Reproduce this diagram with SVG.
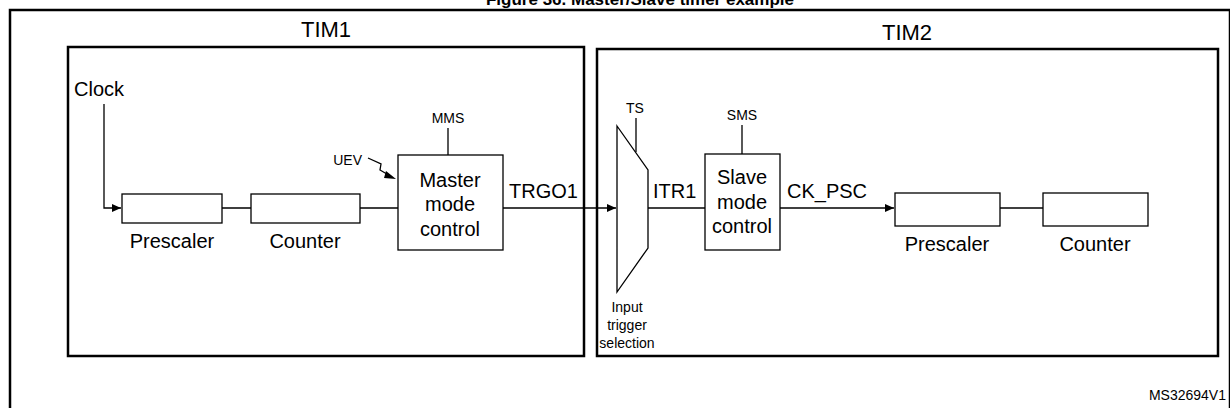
<svg xmlns="http://www.w3.org/2000/svg" width="1230" height="408" viewBox="0 0 1230 408">
<defs>
<style>
.t{font-family:"Liberation Sans",Arial,sans-serif;fill:#000}
.m{font-size:20px}
.s{font-size:14px}
.b{fill:#fff;stroke:#000;stroke-width:1.3}
.f{fill:none;stroke:#000;stroke-width:2.5}
.l{fill:none;stroke:#000;stroke-width:1.3}
</style>
<marker id="a" markerWidth="10" markerHeight="8" refX="9" refY="4" orient="auto" markerUnits="userSpaceOnUse"><path d="M0,0L9,4L0,8z" fill="#000"/></marker>
</defs>
<rect width="1230" height="408" fill="#fff"/>
<text class="t" x="640" y="5" font-size="17" font-weight="bold" text-anchor="middle">Figure 36. Master/Slave timer example</text>
<rect x="10" y="10" width="1220" height="400" class="f" fill="none"/>
<g id="tim1"><rect x="68" y="47" width="516" height="309" class="f"/><text class="t" x="326" y="37" font-size="22" text-anchor="middle">TIM1</text></g>
<g id="tim2"><rect x="597" y="49" width="621" height="307" class="f"/><text class="t" x="907" y="40" font-size="22" text-anchor="middle">TIM2</text></g>
<g id="connectors">
<path class="l" d="M104,104V208H121" marker-end="url(#a)"/>
<path class="l" d="M222,208H251M360,208H398"/>
<path class="l" d="M448,128V155M636,118V152M742,125V154"/>
<path class="l" d="M503,208H616" marker-end="url(#a)"/>
<path class="l" d="M648,208H705"/>
<path class="l" d="M780,208H894" marker-end="url(#a)"/>
<path class="l" d="M1000,208H1043"/>
<path class="l" d="M368,158L381,164L380,170L392,177"/>
<path d="M396,179L386,171L384,178z" fill="#000"/>
</g>
<g id="clock"><text class="t m" x="74" y="96">Clock</text></g>
<g id="prescaler1"><rect class="b" x="122" y="194" width="100" height="29"/><text class="t m" x="172" y="248" text-anchor="middle">Prescaler</text></g>
<g id="counter1"><rect class="b" x="251" y="194" width="109" height="29"/><text class="t m" x="305" y="248" text-anchor="middle">Counter</text></g>
<g id="master"><rect class="b" x="398" y="155" width="105" height="95"/>
<text class="t m" text-anchor="middle"><tspan x="450" y="187">Master</tspan><tspan x="450" y="211">mode</tspan><tspan x="450" y="236">control</tspan></text>
<text class="t s" x="448" y="123" text-anchor="middle">MMS</text>
<text class="t s" x="362" y="165" text-anchor="end">UEV</text></g>
<text class="t m" x="509" y="198">TRGO1</text>
<g id="mux"><path class="b" d="M617,126L648,170V248L617,292Z"/>
<text class="t s" x="635" y="113" text-anchor="middle">TS</text>
<text class="t s" text-anchor="middle"><tspan x="627" y="312">Input</tspan><tspan x="627" y="330">trigger</tspan><tspan x="627" y="348">selection</tspan></text></g>
<text class="t m" x="653" y="198">ITR1</text>
<g id="slave"><rect class="b" x="705" y="154" width="75" height="96"/>
<text class="t m" text-anchor="middle"><tspan x="742" y="184">Slave</tspan><tspan x="742" y="209">mode</tspan><tspan x="742" y="233">control</tspan></text>
<text class="t s" x="742" y="120" text-anchor="middle">SMS</text></g>
<text class="t m" x="787" y="198">CK_PSC</text>
<g id="prescaler2"><rect class="b" x="895" y="193" width="105" height="33"/><text class="t m" x="947" y="251" text-anchor="middle">Prescaler</text></g>
<g id="counter2"><rect class="b" x="1043" y="193" width="105" height="33"/><text class="t m" x="1095" y="251" text-anchor="middle">Counter</text></g>
<text class="t s" x="1226" y="400" text-anchor="end">MS32694V1</text>
</svg>
